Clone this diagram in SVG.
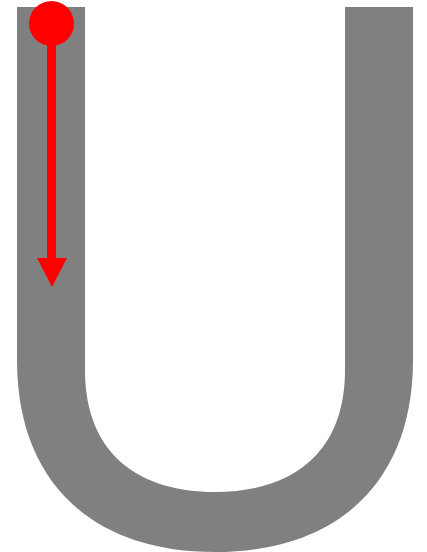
<svg xmlns="http://www.w3.org/2000/svg" width="427" height="552" viewBox="0 0 427 552">
<style>
.track{fill:#808080}
.red{fill:#ff0000}
.redline{stroke:#ff0000;stroke-width:9;fill:none}
</style>
<rect width="427" height="552" fill="#ffffff"/>
<g id="track">
<path class="track" d="M17,7 L85,7 L85,370 C85,455 140,492 215,492 C290,492 345,455 345,370 L345,7 L413,7 L413,360 C413,480 340,552 215,552 C90,552 17,480 17,360 Z"/>
</g>
<g id="connectors">
<line class="redline" x1="51.5" y1="40" x2="51.5" y2="260"/>
<polygon class="red" points="37,258 67,258 52,287"/>
</g>
<g id="ball">
<circle class="red" cx="51.5" cy="23.5" r="22.5"/>
</g>
</svg>
